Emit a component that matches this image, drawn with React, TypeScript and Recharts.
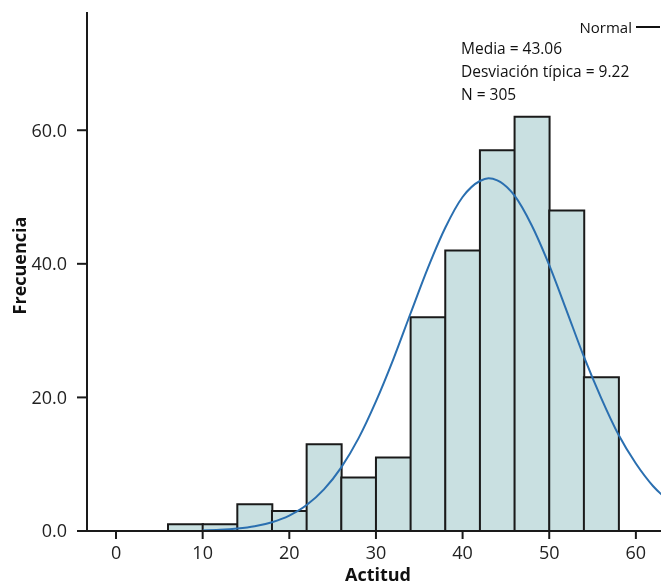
import { Bar, ComposedChart, Line, XAxis, YAxis } from "recharts";

// histograma de Actitud (intervalos de 4 puntos)
const binCenters = [8, 12, 16, 20, 24, 28, 32, 36, 40, 44, 48, 52, 56];
const frequencies = [1, 1, 4, 3, 13, 8, 11, 32, 42, 57, 62, 48, 23];

// curva normal
const curveX = [10, 12, 14, 16, 18, 20, 22, 24, 26, 28, 30, 32, 34, 36, 38, 40, 42, 43, 44, 46, 48, 50, 52, 54, 56, 58, 60, 62, 64];
const curveY = [0.09, 0.18, 0.37, 0.71, 1.32, 2.31, 3.89, 6.23, 9.53, 13.9, 19.4, 25.7, 32.6, 39.4, 45.4, 50.0, 52.4, 52.8, 52.5, 50.2, 45.7, 39.8, 33.0, 26.1, 19.9, 14.4, 10.1, 6.7, 4.3];

const xTicks = [0, 10, 20, 30, 40, 50, 60];
const yTicks = [0, 20, 40, 60];

const statLines = ["Media = 43.06", "Desviación típica = 9.22", "N = 305"];

const bars = binCenters.map((x, i) => ({ x, freq: frequencies[i] }));
const curve = curveX.map((x, i) => ({ x, normal: curveY[i] }));

const FONT = "'Open Sans', 'Noto Sans', sans-serif";
const X_DOMAIN: [number, number] = [-3.35, 62.9];

export default function App() {
  const tickStyle = { fill: "#222", fontSize: 18, fontFamily: FONT };
  return (
    // fijado en la esquina para ocupar toda la ventana (sin el margen del body)
    <div style={{ position: "fixed", left: 0, top: 0, width: 661, height: 586, fontFamily: FONT }}>
      <ComposedChart
        width={661}
        height={586}
        data={bars}
        margin={{ top: 12, right: 0, bottom: 0, left: 8 }}
        barCategoryGap={0}
        barGap={0}
      >
        <XAxis
          type="number"
          dataKey="x"
          domain={X_DOMAIN}
          allowDataOverflow
          ticks={xTicks}
          interval={0}
          height={55}
          tickSize={8}
          tickMargin={7}
          stroke="#1a1a1a"
          strokeWidth={2}
          tick={tickStyle}
          label={{
            value: "Actitud",
            position: "insideBottom",
            offset: 5,
            dx: 4,
            style: { fill: "#111", fontSize: 18, fontWeight: 700, fontFamily: FONT },
          }}
        />
        <XAxis
          xAxisId="curve"
          orientation="top"
          type="number"
          dataKey="x"
          domain={X_DOMAIN}
          allowDataOverflow
          height={0}
          tick={false}
          tickLine={false}
          stroke="#1a1a1a"
          strokeWidth={2}
        />
        <YAxis
          type="number"
          domain={[0, 77.7]}
          allowDataOverflow
          ticks={yTicks}
          interval={0}
          width={79}
          tickSize={10}
          tickMargin={10}
          stroke="#1a1a1a"
          strokeWidth={2}
          tick={tickStyle}
          tickFormatter={(v) => Number(v).toFixed(1)}
          label={{
            value: "Frecuencia",
            angle: -90,
            position: "insideLeft",
            offset: 12,
            dy: -6,
            style: { textAnchor: "middle", fill: "#111", fontSize: 18, fontWeight: 700, fontFamily: FONT },
          }}
        />
        <Bar dataKey="freq" fill="#c9e0e1" stroke="#1a1a1a" strokeWidth={2} isAnimationActive={false} />
        <Line
          data={curve}
          xAxisId="curve"
          dataKey="normal"
          type="monotone"
          stroke="#2a6fb0"
          strokeWidth={2}
          dot={false}
          activeDot={false}
          isAnimationActive={false}
        />
      </ComposedChart>

      {/* leyenda de la curva normal */}
      <div style={{ position: "absolute", right: 1, top: 17, display: "flex", alignItems: "center", fontSize: 15, color: "#111" }}>
        <span>Normal</span>
        <span style={{ display: "inline-block", width: 24, height: 2, background: "#111", marginLeft: 4 }} />
      </div>
      <div style={{ position: "absolute", left: 461, top: 37, fontSize: 15.5, lineHeight: "23px", color: "#111" }}>
        {statLines.map((s) => (
          <div key={s}>{s}</div>
        ))}
      </div>
    </div>
  );
}
